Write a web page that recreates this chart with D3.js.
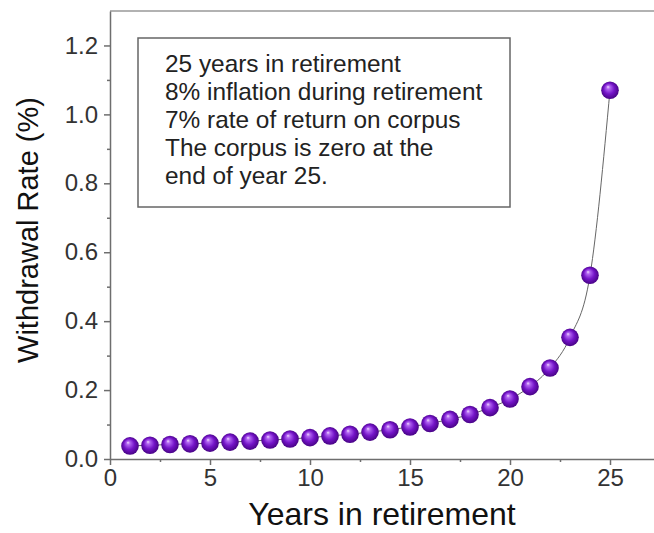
<!DOCTYPE html>
<html>
<head>
<meta charset="utf-8">
<script src="https://cdn.jsdelivr.net/npm/d3@7"></script>
<style>
  html, body { margin: 0; padding: 0; background: #fff; }
  svg { display: block; font-family: "Liberation Sans", Arial, sans-serif; }
</style>
</head>
<body>
<svg id="chart" width="654" height="533"></svg>
<script>
// Withdrawal rate per year of retirement (corpus runs out after year 25)
const years = [1, 2, 3, 4, 5, 6, 7, 8, 9, 10, 11, 12, 13, 14, 15, 16, 17, 18, 19, 20, 21, 22, 23, 24, 25];
const withdrawalRate = [0.038, 0.040, 0.042, 0.044, 0.046, 0.049, 0.052, 0.055, 0.058, 0.062,
                        0.067, 0.072, 0.078, 0.085, 0.093, 0.103, 0.115, 0.129, 0.149, 0.174,
                        0.210, 0.264, 0.353, 0.533, 1.070];
const xTicks = [0, 5, 10, 15, 20, 25];
const yTicks = [0.0, 0.2, 0.4, 0.6, 0.8, 1.0, 1.2];
const noteLines = [
  "25 years in retirement",
  "8% inflation during retirement",
  "7% rate of return on corpus",
  "The corpus is zero at the",
  "end of year 25."
];

const svg = d3.select("#chart");
const plotLeft = 110, plotRight = 654, plotTop = 11, plotBottom = 459;

const x = d3.scaleLinear().domain([0, 27.2]).range([plotLeft, plotRight]);
const y = d3.scaleLinear().domain([0, 1.3]).range([plotBottom, plotTop]);

// sphere-like marker fill
const defs = svg.append("defs");
const grad = defs.append("radialGradient").attr("id", "ball")
  .attr("cx", "50%").attr("cy", "50%").attr("r", "55%")
  .attr("fx", "38%").attr("fy", "30%");
grad.append("stop").attr("offset", "0%").attr("stop-color", "#f3dcff");
grad.append("stop").attr("offset", "18%").attr("stop-color", "#b266f2");
grad.append("stop").attr("offset", "55%").attr("stop-color", "#7414c8");
grad.append("stop").attr("offset", "100%").attr("stop-color", "#40007a");

const axisColor = "#6e6e6e";
const labelColor = "#333";

// frame: top line
svg.append("line").attr("x1", plotLeft).attr("x2", plotRight).attr("y1", plotTop).attr("y2", plotTop)
  .attr("stroke", "#999").attr("stroke-width", 1.5);

// x axis
const xAxis = svg.append("g").attr("transform", `translate(0,${plotBottom})`)
  .call(d3.axisBottom(x).tickValues(xTicks).tickSize(6).tickPadding(4).tickSizeOuter(0));
xAxis.select(".domain").attr("stroke", axisColor).attr("stroke-width", 1.5);
xAxis.selectAll(".tick line").attr("stroke", axisColor).attr("stroke-width", 1.5);
xAxis.selectAll(".tick text").attr("font-size", 24).attr("fill", labelColor)
  .attr("font-family", "Liberation Sans, Arial, sans-serif");
const xMinor = svg.append("g").attr("transform", `translate(0,${plotBottom})`)
  .call(d3.axisBottom(x).tickValues([2.5, 7.5, 12.5, 17.5, 22.5]).tickSize(3).tickFormat(""));
xMinor.select(".domain").remove();
xMinor.selectAll(".tick line").attr("stroke", axisColor).attr("stroke-width", 1.5);

// y axis
const yAxis = svg.append("g").attr("transform", `translate(${plotLeft},0)`)
  .call(d3.axisLeft(y).tickValues(yTicks).tickFormat(d3.format(".1f")).tickSize(6).tickPadding(6).tickSizeOuter(0));
yAxis.select(".domain").attr("stroke", axisColor).attr("stroke-width", 1.5);
yAxis.selectAll(".tick line").attr("stroke", axisColor).attr("stroke-width", 1.5);
yAxis.selectAll(".tick text").attr("font-size", 24).attr("fill", labelColor)
  .attr("font-family", "Liberation Sans, Arial, sans-serif");
const yMinor = svg.append("g").attr("transform", `translate(${plotLeft},0)`)
  .call(d3.axisLeft(y).tickValues([0.1, 0.3, 0.5, 0.7, 0.9, 1.1]).tickSize(3).tickFormat(""));
yMinor.select(".domain").remove();
yMinor.selectAll(".tick line").attr("stroke", axisColor).attr("stroke-width", 1.5);

// axis titles
svg.append("text").attr("x", 382).attr("y", 525).attr("text-anchor", "middle")
  .attr("font-size", 32).attr("fill", "#111").text("Years in retirement");
svg.append("text").attr("transform", `translate(38,230) rotate(-90)`).attr("text-anchor", "middle")
  .attr("font-size", 29).attr("fill", "#111").text("Withdrawal Rate (%)");

// note box
svg.append("rect").attr("x", 138).attr("y", 38).attr("width", 372).attr("height", 169)
  .attr("fill", "#fff").attr("stroke", "#666").attr("stroke-width", 1.5);
svg.append("g").selectAll("text").data(noteLines).join("text")
  .attr("x", 165).attr("y", (d, i) => 72 + i * 28)
  .attr("font-size", 24.4).attr("fill", "#222").text(d => d);

// connecting curve
const pts = years.map((yr, i) => [yr, withdrawalRate[i]]);
svg.append("path").datum(pts)
  .attr("fill", "none").attr("stroke", "#666").attr("stroke-width", 1)
  .attr("d", d3.line().x(d => x(d[0])).y(d => y(d[1])).curve(d3.curveMonotoneX));

// markers
svg.append("g").selectAll("circle").data(pts).join("circle")
  .attr("cx", d => x(d[0])).attr("cy", d => y(d[1])).attr("r", 8.8)
  .attr("fill", "url(#ball)");
</script>
</body>
</html>
